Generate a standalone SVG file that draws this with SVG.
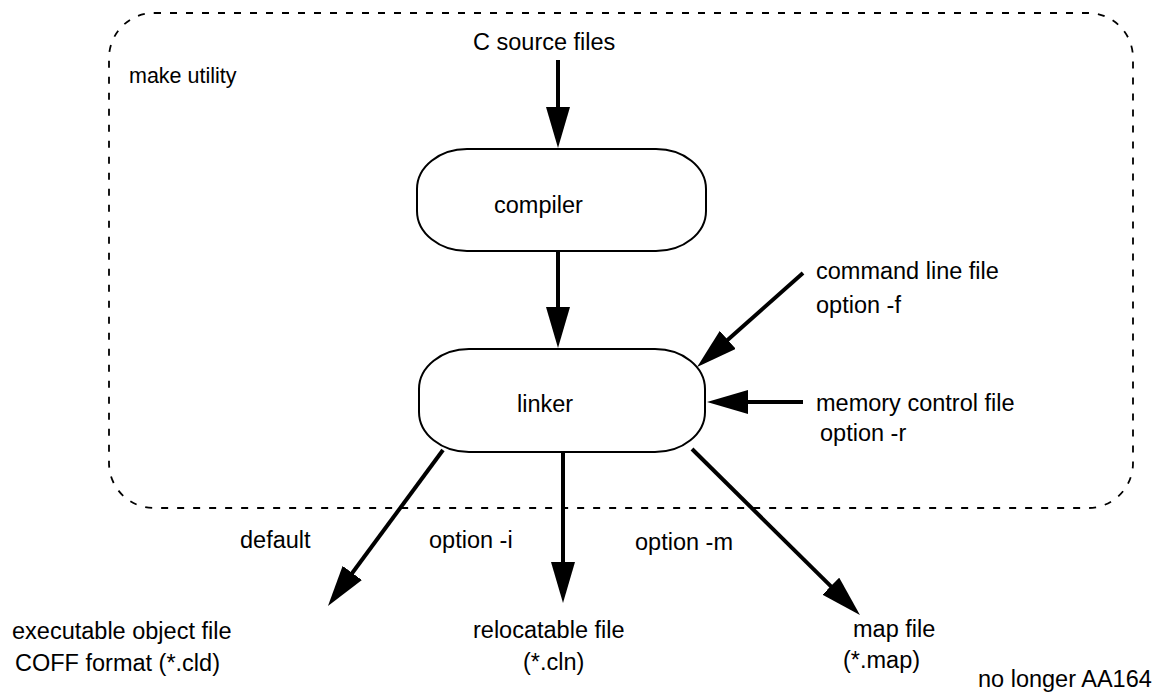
<svg xmlns="http://www.w3.org/2000/svg" width="1162" height="692" viewBox="0 0 1162 692">
<style>
text{font-family:"Liberation Sans",Arial,sans-serif;font-size:23.5px;fill:#000}
.node{fill:#fff;stroke:#000;stroke-width:2}
.conn{stroke:#000;stroke-width:4;fill:none}
.frame{fill:none;stroke:#000;stroke-width:1.8;stroke-dasharray:7 9}
</style>
<defs>
<marker id="ah" markerUnits="userSpaceOnUse" viewBox="0 0 41 24" markerWidth="41" markerHeight="24" refX="1" refY="12" orient="auto">
<path d="M0,0 L41,12 L0,24 z" fill="#000"/>
</marker>
</defs>
<g id="make-utility">
<rect class="frame" x="109" y="13" width="1024" height="495" rx="45" ry="45"/>
<text x="129" y="83" style="font-size:21.5px">make utility</text>
</g>
<g id="compiler">
<rect class="node" x="417" y="149" width="289" height="102" rx="50" ry="40"/>
<text x="494" y="213">compiler</text>
</g>
<g id="linker">
<rect class="node" x="419" y="349" width="286" height="103" rx="50" ry="40"/>
<text x="517" y="412">linker</text>
</g>
<g id="labels">
<text x="473" y="50">C source files</text>
<text x="816" y="279">command line file</text>
<text x="816" y="313">option -f</text>
<text x="816" y="411">memory control file</text>
<text x="820" y="441">option -r</text>
<text x="240" y="548">default</text>
<text x="429" y="548">option -i</text>
<text x="635" y="550">option -m</text>
<text x="12" y="639">executable object file</text>
<text x="15" y="671">COFF format (*.cld)</text>
<text x="473" y="638">relocatable file</text>
<text x="523" y="670">(*.cln)</text>
<text x="853" y="637">map file</text>
<text x="843" y="668">(*.map)</text>
<text x="978" y="687">no longer AA164</text>
</g>
<g id="connectors">
<line class="conn" x1="558" y1="60" x2="558" y2="108" marker-end="url(#ah)"/>
<line class="conn" x1="558" y1="251" x2="558" y2="308" marker-end="url(#ah)"/>
<line class="conn" x1="803" y1="273" x2="727" y2="340.5" marker-end="url(#ah)"/>
<line class="conn" x1="803" y1="402" x2="747" y2="402" marker-end="url(#ah)"/>
<line class="conn" x1="443" y1="450" x2="351.7" y2="573.8" marker-end="url(#ah)"/>
<line class="conn" x1="563" y1="452" x2="563" y2="563" marker-end="url(#ah)"/>
<line class="conn" x1="692" y1="449" x2="831.5" y2="586.9" marker-end="url(#ah)"/>
</g>
</svg>
